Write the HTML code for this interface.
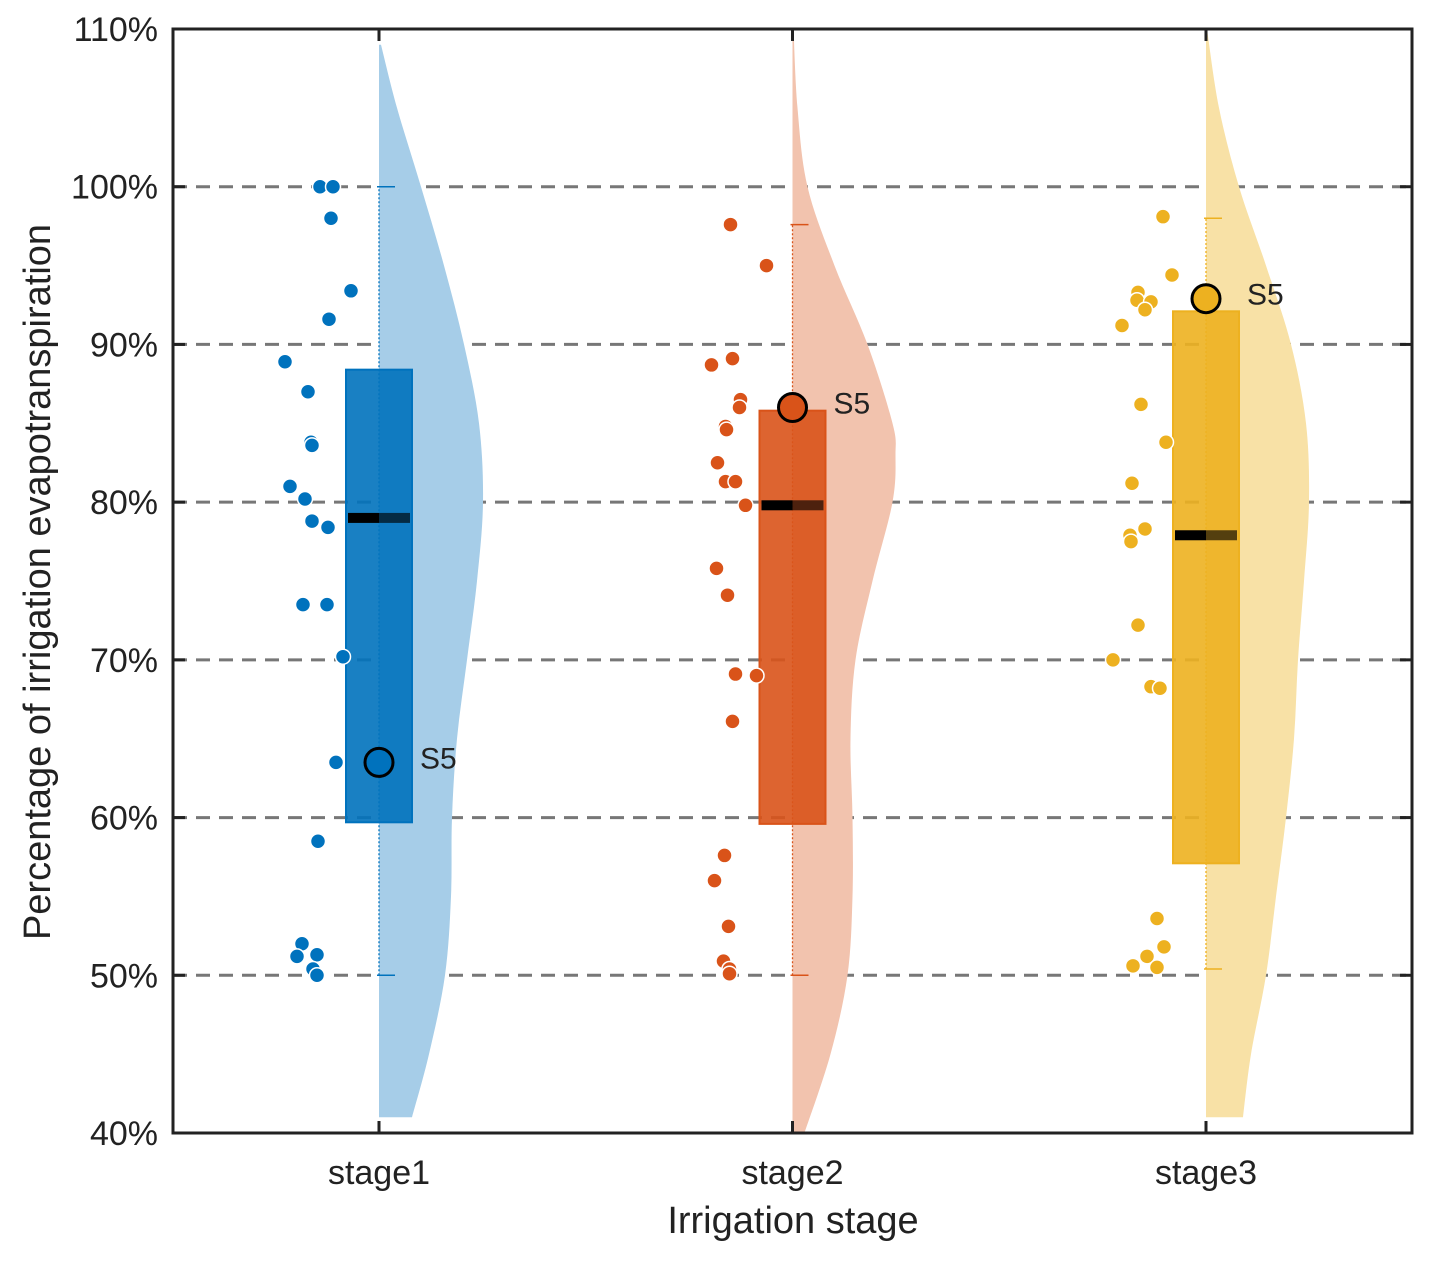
<!DOCTYPE html>
<html><head><meta charset="utf-8"><style>
body{margin:0;background:#fff;}
svg text{font-family:"Liberation Sans",Arial,sans-serif;fill:#222;}
</style></head><body>
<svg id="c" width="1435" height="1260" xmlns="http://www.w3.org/2000/svg"></svg>
<script>
const categories=["stage1","stage2","stage3"];
const yTicks=[40,50,60,70,80,90,100,110];
const gridVals=[50,60,70,80,90,100];
const colors=["#0072BD","#D95319","#EDB120"];
const lightColors=["#a6cde8","#f2c3ae","#f8e1a6"];
const boxQ1=[59.7,59.6,57.1];
const boxQ3=[88.4,85.8,92.1];
const medians=[79.0,79.8,77.9];
const whiskLo=[50.0,50.0,50.4];
const whiskHi=[100.0,97.6,98.0];
const s5Values=[63.5,86.0,92.9];
const pts1=[100,100,98.0,93.4,91.6,88.9,87.0,83.8,83.6,81.0,80.2,78.8,78.4,73.5,73.5,70.2,63.5,58.5,52.0,51.2,51.3,50.4,50.0];
const jit1=[-59,-46,-48,-28,-50,-94,-71,-68,-67,-89,-74,-67,-51,-76,-52,-36,-43,-61,-77,-82,-62,-66,-62];
const pts2=[97.6,95.0,88.7,89.1,86.5,86.0,84.8,84.6,82.5,81.3,81.3,79.8,75.8,74.1,69.1,69.0,66.1,57.6,56.0,53.1,50.9,50.4,50.1];
const jit2=[-62,-26,-81,-60,-52,-53,-67,-66,-75,-67,-57,-47,-76,-65,-57,-36,-60,-68,-78,-64,-69,-63,-63];
const pts3=[98.1,94.4,93.3,92.8,92.7,92.2,91.2,86.2,83.8,81.2,77.9,77.5,78.3,72.2,70.0,68.3,68.2,53.6,51.8,51.2,50.6,50.5];
const jit3=[-43,-34,-68,-69,-55,-61,-84,-65,-40,-74,-76,-75,-61,-68,-93,-55,-46,-49,-42,-59,-73,-49];
const points=[pts1,pts2,pts3];
const jitters=[jit1,jit2,jit3];
const violinY=[[41,45,50,55,60,65,70,75,80,85,90,95,100,105,109],[40,45,50,55,60,65,70,75,80,83,85,90,95,100,105,110],[41,45,50,55,60,65,70,75,80,85,90,95,100,105,110]];
const violinW=[[33,50,66,72,73,78,88,98,104,100,85,65,42,18,2],[12,38,55,60,60,58,63,80,100,103,100,75,42,15,5,1],[37,45,60,70,80,88,92,98,103,100,85,60,33,13,1]];

const L=173,R=1412,T=29,B=1133;
const y=v=>B-(v-40)/70*(B-T);
const xc=i=>379+i*413.5;
const svg=document.getElementById('c');
const NS="http://www.w3.org/2000/svg";
function mk(tag,attrs,parent){const e=document.createElementNS(NS,tag);for(const k in attrs)e.setAttribute(k,attrs[k]);(parent||svg).appendChild(e);return e;}

gridVals.forEach(v=>{const g=mk('line',{x1:L,x2:R,y1:y(v),y2:y(v),stroke:'#777','stroke-width':3,'stroke-dasharray':'14,9'});

});

function smooth(pts){
  let d='M'+pts[0][0]+','+pts[0][1];
  for(let k=0;k<pts.length-1;k++){
    const p0=pts[Math.max(0,k-1)],p1=pts[k],p2=pts[k+1],p3=pts[Math.min(pts.length-1,k+2)];
    const c1x=p1[0]+(p2[0]-p0[0])/6,c1y=p1[1]+(p2[1]-p0[1])/6;
    const c2x=p2[0]-(p3[0]-p1[0])/6,c2y=p2[1]-(p3[1]-p1[1])/6;
    d+=' C'+c1x+','+c1y+' '+c2x+','+c2y+' '+p2[0]+','+p2[1];
  }
  return d;
}

categories.forEach((c,i)=>{
  const cx=xc(i);
  const pts=violinY[i].map((v,k)=>[cx+violinW[i][k],y(v)]);
  let d=smooth(pts);
  d+=' L'+cx+','+y(violinY[i][violinY[i].length-1])+' L'+cx+','+y(violinY[i][0])+'Z';
  const vp=mk('path',{d:d,fill:lightColors[i]});
  
  
  const wl=mk('line',{x1:cx,x2:cx,y1:y(whiskLo[i]),y2:y(whiskHi[i]),stroke:colors[i],'stroke-width':1.3,'stroke-dasharray':'2,2'});
  
  
  [whiskLo[i],whiskHi[i]].forEach(v=>{const cp=mk('line',{x1:cx-2,x2:cx+16,y1:y(v),y2:y(v),stroke:colors[i],'stroke-width':1.5});
    
    });
  const bx=mk('rect',{x:cx-33,y:y(boxQ3[i]),width:66,height:y(boxQ1[i])-y(boxQ3[i]),fill:colors[i],'fill-opacity':0.9,stroke:colors[i],'stroke-width':2});
  
  
  const md=mk('rect',{x:cx-31,y:y(medians[i])-5,width:31,height:10,fill:'#000'});
  
  
  const md2=mk('rect',{x:cx,y:y(medians[i])-5,width:31,height:10,fill:'#000','fill-opacity':0.65});
  
  
  points[i].forEach((v,k)=>{const p=mk('circle',{cx:cx+jitters[i][k],cy:y(v),r:7.5,fill:colors[i],stroke:'#fff','stroke-width':1.5});
    
    });
  const s=mk('circle',{cx:cx,cy:y(s5Values[i]),r:14,fill:colors[i],stroke:'#000','stroke-width':3});
  
  
  const st=mk('text',{x:cx+41,y:y(s5Values[i])+6,'font-size':30});st.textContent='S5';
  
  
  mk('line',{x1:cx,x2:cx,y1:B,y2:B-12,stroke:'#222','stroke-width':3});
  mk('line',{x1:cx,x2:cx,y1:T,y2:T+12,stroke:'#222','stroke-width':3});
  const xl=mk('text',{x:cx,y:1184,'font-size':34,'text-anchor':'middle'});xl.textContent=c;
  
  
});

yTicks.forEach(v=>{
  mk('line',{x1:L,x2:L+12,y1:y(v),y2:y(v),stroke:'#222','stroke-width':3});
  mk('line',{x1:R,x2:R-12,y1:y(v),y2:y(v),stroke:'#222','stroke-width':3});
  const t=mk('text',{x:158,y:y(v)+12,'font-size':34,'text-anchor':'end'});t.textContent=v+'%';
  
  
});
const fr=mk('rect',{x:L,y:T,width:R-L,height:B-T,fill:'none',stroke:'#222','stroke-width':3});


const xt=mk('text',{x:793,y:1233,'font-size':38,'text-anchor':'middle'});xt.textContent='Irrigation stage';


const yt=mk('text',{x:0,y:0,'font-size':38,'text-anchor':'middle',transform:'translate(50,582) rotate(-90)'});yt.textContent='Percentage of irrigation evapotranspiration';


</script>
</body></html>
